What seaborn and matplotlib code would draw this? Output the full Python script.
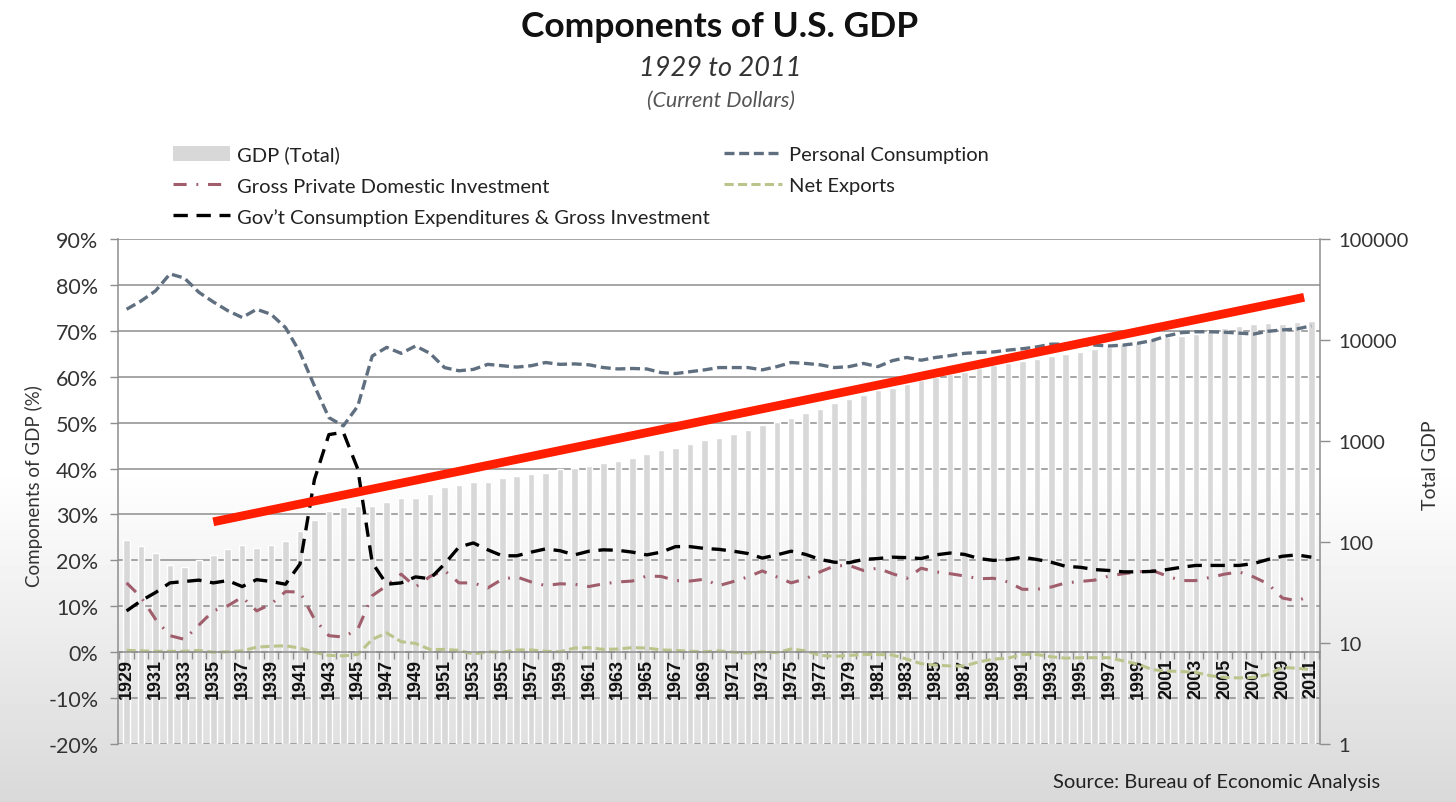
import numpy as np
import pandas as pd
import seaborn as sns
import matplotlib.pyplot as plt
from matplotlib.lines import Line2D
from matplotlib.patches import Patch
from matplotlib.ticker import FuncFormatter, NullLocator
from matplotlib.transforms import blended_transform_factory

sns.set_theme(style="white")
plt.rcParams['font.family'] = ['Lato', 'DejaVu Sans']

years = list(range(1929, 2012))

# total GDP, billions of current dollars (right axis, log)
gdp_total = [104.6, 92.2, 77.4, 59.5, 57.2, 66.8, 74.3, 84.9, 93.0, 87.4,
             93.5, 102.9, 129.4, 166.0, 203.1, 224.6, 228.2, 227.8, 249.9, 274.8,
             272.8, 300.2, 347.3, 367.7, 389.7, 391.1, 426.2, 450.1, 474.9, 482.0,
             522.5, 543.3, 563.3, 605.1, 638.6, 685.8, 743.7, 815.0, 861.7, 942.5,
             1019.9, 1075.9, 1167.8, 1282.4, 1428.5, 1548.8, 1688.9, 1877.6, 2086.0, 2356.6,
             2632.1, 2862.5, 3211.0, 3345.0, 3638.1, 4040.7, 4346.7, 4590.2, 4870.2, 5252.6,
             5657.7, 5979.6, 6174.0, 6539.3, 6878.7, 7308.8, 7664.1, 8100.2, 8608.5, 9089.2,
             9660.6, 10284.8, 10621.8, 10977.5, 11510.7, 12274.9, 13093.7, 13855.9, 14477.6, 14718.6,
             14418.7, 14964.4, 15517.9]

# components, % of GDP (left axis)
personal = [74.7, 76.5, 78.7, 82.4, 81.5, 78.4, 76.3, 74.4, 72.9, 74.7,
            73.6, 70.7, 65.3, 58.0, 51.1, 49.3, 53.6, 64.5, 66.4, 65.1,
            66.7, 65.1, 62.0, 61.3, 61.6, 62.7, 62.4, 62.1, 62.4, 63.1,
            62.7, 62.8, 62.6, 62.0, 61.7, 61.8, 61.7, 60.9, 60.7, 61.1,
            61.5, 62.0, 62.0, 62.0, 61.5, 62.2, 63.1, 62.9, 62.6, 62.0,
            62.2, 62.9, 62.2, 63.5, 64.2, 63.6, 64.2, 64.6, 65.1, 65.3,
            65.4, 65.8, 66.1, 66.5, 67.1, 67.1, 67.0, 66.9, 66.7, 66.9,
            67.3, 67.9, 68.9, 69.6, 69.8, 69.8, 69.7, 69.5, 69.3, 69.9,
            70.2, 70.4, 71.1]

investment = [15.1, 12.0, 7.2, 3.6, 2.8, 5.9, 9.0, 10.1, 12.0, 9.0,
              10.5, 13.2, 13.1, 7.2, 3.6, 3.3, 5.0, 12.3, 14.5, 17.0,
              14.2, 16.5, 17.8, 15.1, 15.1, 14.0, 15.9, 16.4, 15.3, 14.5,
              14.9, 14.8, 14.3, 14.9, 15.3, 15.5, 16.6, 16.5, 15.6, 15.5,
              15.9, 14.5, 15.4, 16.4, 17.7, 16.4, 15.1, 16.0, 17.5, 18.8,
              18.9, 17.8, 18.3, 17.1, 16.1, 18.3, 17.5, 17.1, 16.6, 16.0,
              16.1, 15.3, 13.7, 13.7, 14.2, 15.1, 15.4, 15.7, 16.6, 17.1,
              17.5, 17.8, 16.6, 15.6, 15.6, 16.3, 17.0, 17.5, 16.4, 14.9,
              11.8, 11.2, 12.3]

net_exports = [0.4, 0.3, 0.2, 0.2, 0.2, 0.4, 0.0, 0.1, 0.3, 1.1,
               1.3, 1.4, 0.9, 0.0, -0.7, -0.8, -0.5, 2.8, 4.2, 2.3,
               1.9, 0.6, 0.6, 0.4, -0.4, 0.1, 0.0, 0.5, 0.5, 0.2,
               0.1, 0.9, 1.0, 0.6, 0.7, 1.0, 0.9, 0.5, 0.4, 0.2,
               0.1, 0.3, 0.0, -0.2, 0.1, -0.1, 0.7, 0.3, -0.7, -0.9,
               -0.7, -0.5, -0.5, -0.6, -1.5, -2.5, -2.8, -3.0, -3.0, -2.1,
               -1.5, -1.3, -0.5, -0.5, -1.0, -1.3, -1.2, -1.2, -1.2, -1.9,
               -2.6, -3.8, -4.1, -4.2, -4.4, -5.1, -5.5, -5.6, -5.5, -4.9,
               -3.3, -3.5, -3.8]

government = [9.0, 11.2, 13.0, 15.1, 15.4, 15.7, 15.1, 15.6, 14.3, 15.8,
              15.4, 14.8, 19.2, 37.6, 47.4, 47.9, 39.9, 19.5, 14.8, 15.1,
              16.4, 16.0, 19.2, 22.9, 23.8, 22.3, 21.0, 21.0, 21.8, 22.5,
              22.1, 21.2, 22.0, 22.3, 22.2, 21.8, 21.2, 21.8, 23.0, 23.0,
              22.6, 22.4, 22.0, 21.5, 20.5, 21.2, 22.0, 21.3, 20.2, 19.6,
              19.5, 20.2, 20.4, 20.7, 20.6, 20.4, 21.2, 21.6, 21.3, 20.4,
              20.0, 20.2, 20.7, 20.2, 19.6, 18.7, 18.5, 18.0, 17.8, 17.5,
              17.5, 17.6, 18.0, 18.5, 18.9, 18.9, 18.9, 18.9, 19.3, 20.2,
              20.9, 21.2, 20.7]

# hand-drawn red trend line on top of the chart
trend_years = [1935.0, 2010.5]
trend_pct = [28.4, 77.3]

df = pd.DataFrame({"year": years, "gdp": gdp_total, "personal": personal,
                   "investment": investment, "net_exports": net_exports,
                   "government": government})

c_gdp = "#d8d8d8"
c_pce = "#5f6f80"
c_inv = "#a05e6c"
c_nx = "#bcc48c"
c_gov = "#000000"
c_grid = "#8e8e8e"

ls_pce = (0, (3.0, 1.4))
ls_inv = (0, (4.3, 3.2, 0.6, 3.2))
ls_nx = (0, (3.0, 1.4))
ls_gov = (0, (4.3, 2.6))

fig = plt.figure(figsize=(14.56, 8.03), dpi=100)

# faint grey vignette of the screenshot
bg = fig.add_axes([0, 0, 1, 1], zorder=-10)
rows = np.arange(803)
shade = np.where(rows < 470, 1.0, 1.0 - (rows - 470) / 333 * 0.15).reshape(-1, 1)
bg.imshow(shade, cmap="gray", vmin=0, vmax=1, aspect="auto", extent=[0, 1, 0, 1])
bg.axis("off")

ax = fig.add_axes([0.081, 0.0722, 0.8256, 0.6289])
ax2 = ax.twinx()
ax.set_zorder(ax2.get_zorder() + 1)
ax.patch.set_visible(False)
ax2.patch.set_visible(False)

# bars on log axis
ax2.set_yscale("log")
sns.barplot(data=df, x="year", y="gdp", native_scale=True, width=0.45,
            color=c_gdp, saturation=1, errorbar=None, ax=ax2, zorder=2)
ax2.set_ylim(1, 100000)

# percent gridlines behind the bars
tr = blended_transform_factory(ax2.transAxes, ax.transData)
for p in range(-20, 91, 10):
    ax2.plot([0, 1], [p, p], transform=tr, color=c_grid, lw=1.1, zorder=1)

sns.lineplot(data=df, x="year", y="personal", ax=ax, color=c_pce, lw=2.4, linestyle=ls_pce)
sns.lineplot(data=df, x="year", y="investment", ax=ax, color=c_inv, lw=2.2, linestyle=ls_inv)
sns.lineplot(data=df, x="year", y="net_exports", ax=ax, color=c_nx, lw=2.2, linestyle=ls_nx)
sns.lineplot(data=df, x="year", y="government", ax=ax, color=c_gov, lw=2.4, linestyle=ls_gov)
sns.lineplot(x=trend_years, y=trend_pct, ax=ax, color="#ff1e00", lw=6.3,
             solid_capstyle="butt", zorder=10)

ax.set_xlim(1928.4, 2011.6)
ax2.set_xlim(1928.4, 2011.6)
ax.set_ylim(-20, 90)

# left axis
ax.set_yticks(range(-20, 91, 10))
ax.yaxis.set_major_formatter(FuncFormatter(lambda v, p: f"{int(v)}%"))
ax.tick_params(axis="y", which="major", left=True, length=6, width=1, color=c_grid,
               labelsize=15.5, labelcolor="#333333", pad=8)
ax.set_ylabel("Components of GDP (%)", fontsize=13.5, color="#333333")
ax.yaxis.set_label_coords(-0.062, 0.513)

# category axis sitting on 0 %
ax.spines["bottom"].set_position(("data", 0))
for s in ["top", "right"]:
    ax.spines[s].set_visible(False)
for s in ["left", "bottom"]:
    ax.spines[s].set_color(c_grid)
    ax.spines[s].set_linewidth(1.1)
ax.set_xticks(years[::2])
ax.set_xticklabels([str(y) for y in years[::2]], rotation=90,
                   family=["Liberation Sans", "DejaVu Sans"], fontsize=13,
                   weight="bold", color="#111111")
ax.set_xticks(np.arange(1928.5, 2012, 1), minor=True)
ax.tick_params(axis="x", which="major", length=0, pad=4, bottom=True)
ax.tick_params(axis="x", which="minor", length=5, width=1, color=c_grid, bottom=True,
               direction="out")
ax.set_xlabel("")

# right axis
for s in ["top", "left", "bottom"]:
    ax2.spines[s].set_visible(False)
ax2.spines["right"].set_color(c_grid)
ax2.spines["right"].set_linewidth(1.1)
ax2.set_yticks([1, 10, 100, 1000, 10000, 100000])
ax2.yaxis.set_minor_locator(NullLocator())
ax2.yaxis.set_major_formatter(FuncFormatter(lambda v, p: f"{int(round(v))}"))
ax2.tick_params(axis="y", right=True, length=7, width=1, color=c_grid,
                labelsize=14.5, labelcolor="#333333", pad=6)
ax2.tick_params(axis="x", bottom=False, labelbottom=False)
ax2.set_xlabel("")
ax2.set_ylabel("Total GDP", fontsize=14, color="#333333", rotation=90)
ax2.yaxis.set_label_coords(1.085, 0.554)

# titles
fig.text(0.494, 0.966, "Components of U.S. GDP", ha="center", va="center",
         fontsize=25.5, weight="bold", color="#111111")
fig.text(0.495, 0.915, "1929 to 2011", ha="center", va="center",
         fontsize=19.5, style="italic", color="#333333")
fig.text(0.495, 0.874, "(Current Dollars)", ha="center", va="center",
         fontsize=15.5, style="italic", color="#555555")

# legend in two blocks
h_gdp = Patch(facecolor=c_gdp, edgecolor="none")
h_pce = Line2D([], [], color=c_pce, lw=2.4, linestyle=ls_pce)
h_inv = Line2D([], [], color=c_inv, lw=2.2, linestyle=ls_inv)
h_nx = Line2D([], [], color=c_nx, lw=2.2, linestyle=ls_nx)
h_gov = Line2D([], [], color=c_gov, lw=2.4, linestyle=ls_gov)
leg_kw = dict(frameon=False, fontsize=14.5, handlelength=2.85, handleheight=0.8,
              handletextpad=0.35, labelspacing=0.66, borderaxespad=0, borderpad=0,
              labelcolor="#222222")
fig.legend([h_gdp, h_inv, h_gov],
           ["GDP (Total)", "Gross Private Domestic Investment",
            "Gov\u2019t Consumption Expenditures & Gross Investment"],
           loc="upper left", bbox_to_anchor=(0.1185, 0.8174), **leg_kw)
fig.legend([h_pce, h_nx], ["Personal Consumption", "Net Exports"],
           loc="upper left", bbox_to_anchor=(0.4975, 0.8174), **leg_kw)

fig.text(0.948, 0.025, "Source: Bureau of Economic Analysis", ha="right", va="center",
         fontsize=14.5, color="#222222")

fig.savefig("out.png", dpi=100)
